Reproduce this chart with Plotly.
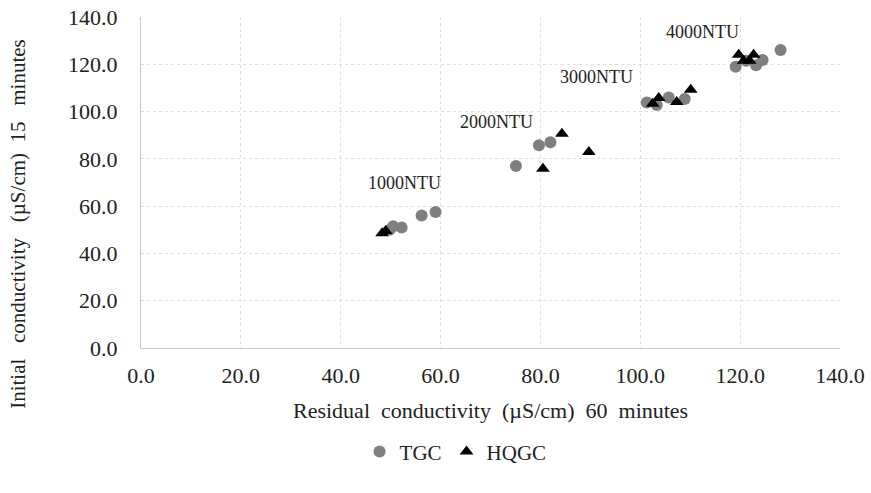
import plotly.graph_objects as go

tgc_x = [49.8, 50.5, 52.2, 56.2, 59.0, 75.1, 79.7, 82.0, 101.3, 103.3, 105.7, 108.9, 119.1, 121.2, 123.2, 124.5, 128.1]
tgc_y = [50.0, 51.5, 51.0, 56.0, 57.5, 77.0, 85.8, 87.0, 103.8, 102.8, 106.0, 105.3, 119.0, 121.5, 119.6, 121.8, 126.0]
hqgc_x = [48.3, 49.0, 80.5, 84.3, 89.7, 102.5, 103.7, 107.3, 110.1, 119.7, 120.7, 121.9, 122.7]
hqgc_y = [48.5, 49.5, 75.8, 90.6, 82.9, 103.3, 105.7, 104.1, 109.2, 124.0, 121.5, 121.5, 124.0]
labels = ["1000NTU", "2000NTU", "3000NTU", "4000NTU"]
label_x = [52.8, 71.3, 91.2, 112.4]
label_y = [70.0, 95.5, 114.5, 133.5]
x_title = "Residual  conductivity  (µS/cm)  60  minutes"
y_title = "Initial   conductivity   (µS/cm)  15   minutes"

font = "Liberation Serif, Times New Roman, serif"
txt = "#222222"
fig = go.Figure()
fig.add_trace(go.Scatter(x=tgc_x, y=tgc_y, mode="markers", name="TGC",
                         marker=dict(symbol="circle", size=12, color="#7f7f7f")))
fig.add_trace(go.Scatter(x=hqgc_x, y=hqgc_y, mode="markers", name="HQGC",
                         marker=dict(symbol="triangle-up", size=12, color="#000000")))
for t, x, y in zip(labels, label_x, label_y):
    fig.add_annotation(x=x, y=y, text=t, showarrow=False,
                       font=dict(family=font, size=18, color=txt))

fig.add_annotation(xref="paper", yref="paper", x=0.5, y=-0.19, text=x_title,
                   showarrow=False, xanchor="center", yanchor="middle",
                   font=dict(family=font, size=22, color=txt))
fig.add_annotation(xref="paper", yref="paper", x=-0.176, y=0.375, text=y_title,
                   showarrow=False, xanchor="center", yanchor="middle", textangle=-90,
                   font=dict(family=font, size=21, color=txt))

axis_common = dict(range=[0, 140], dtick=20, tickformat=".1f", showgrid=True,
                   gridcolor="#dedede", griddash="dot", gridwidth=1,
                   showline=True, linecolor="#c8c8c8", linewidth=1, zeroline=False,
                   automargin=False,
                   ticks="", tickfont=dict(family=font, size=22, color=txt))
fig.update_xaxes(**axis_common, ticklabelstandoff=8)
fig.update_yaxes(**axis_common, ticklabelstandoff=18)
fig.update_layout(
    width=871, height=493,
    margin=dict(l=141, r=31, t=17, b=145),
    plot_bgcolor="white", paper_bgcolor="white",
    showlegend=True,
    legend=dict(orientation="h", x=0.45, xanchor="center", y=-0.314, yanchor="middle",
                font=dict(family=font, size=21, color=txt), itemwidth=30,
                tracegroupgap=0),
)
fig.write_html("out.html")
